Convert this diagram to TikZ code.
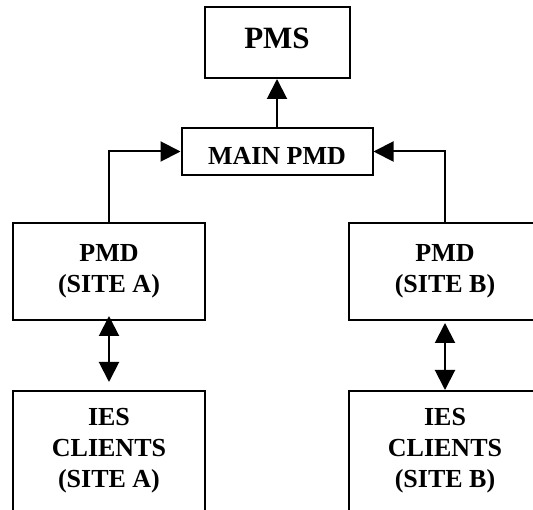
\documentclass[tikz,border=0pt]{standalone}
\usepackage{fontspec}
\setmainfont{Liberation Serif}
\usetikzlibrary{arrows.meta}
\begin{document}
\begin{tikzpicture}[x=1pt,y=-1pt,
  box/.style={draw,line width=2pt,rectangle,inner sep=0pt,align=center,
    font=\fontsize{26}{31}\selectfont\bfseries},
  link/.style={line width=2pt,-{Triangle[length=20pt,width=20pt]}},
  twoway/.style={line width=2pt,{Triangle[length=20pt,width=20pt]}-{Triangle[length=20pt,width=20pt]}}]
  \useasboundingbox (0,0) rectangle (533,510);
  \clip (0,0) rectangle (533,510);
  % boxes
  \node[box,minimum width=145pt,minimum height=71pt,text depth=8pt,
        font=\fontsize{31}{37}\selectfont\bfseries] (pms) at (277,42.5) {PMS};
  \node[box,minimum width=191pt,minimum height=47pt,text height=26pt,text depth=0pt] (main) at (277,151.5) {MAIN PMD};
  \node[box,minimum width=192pt,minimum height=97pt] (pmdA) at (109,271.5) {PMD\\(SITE A)};
  \node[box,minimum width=192pt,minimum height=97pt] (pmdB) at (445,271.5) {PMD\\(SITE B)};
  \node[box,minimum width=192pt,minimum height=120pt] (iesA) at (109,451) {IES\\CLIENTS\\(SITE A)};
  \node[box,minimum width=192pt,minimum height=120pt] (iesB) at (445,451) {IES\\CLIENTS\\(SITE B)};
  % connectors
  \draw[link] (main.north) -- (pms.south);
  \draw[link] (pmdA.north) |- (main.west);
  \draw[link] (pmdB.north) |- (main.east);
  \draw[twoway,shorten <=-5pt,shorten >=8pt] (pmdA.south) -- (iesA.north);
  \draw[twoway,shorten <=2pt] (pmdB.south) -- (iesB.north);
\end{tikzpicture}
\end{document}
